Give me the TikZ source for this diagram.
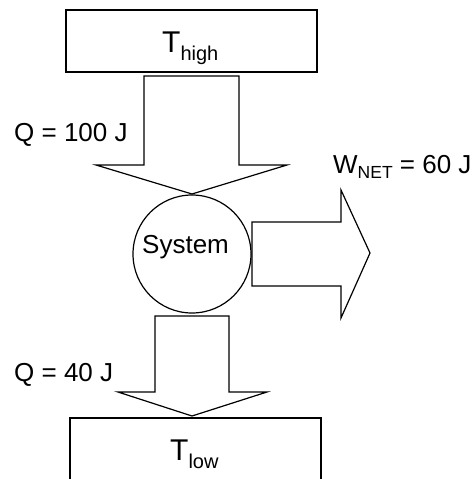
\documentclass[tikz,border=0pt]{standalone}
\usepackage{fontspec}
\setmainfont{Liberation Sans}
\newcommand{\bigT}[1]{{\fontsize{30}{34}\selectfont T}\raisebox{-8pt}{\fontsize{20}{24}\selectfont #1}}
\begin{document}
\begin{tikzpicture}[x=1pt,y=-1pt,
  shp/.style={draw=black,line width=1.2pt,fill=white,line join=miter},
  lbl/.style={inner sep=0pt,anchor=base west,font=\fontsize{26}{30}\selectfont}]
\useasboundingbox (0,0) rectangle (475,479);
% reservoirs
\node[shp,minimum width=251pt,minimum height=62pt,inner sep=0pt] (hot) at (191.5,41) {};
\draw[shp] (70,479) -- (70,418) -- (321,418) -- (321,479);
\coordinate (cold) at (195.5,418);
% system
\node[shp,circle,minimum size=118pt,inner sep=0pt] (sys) at (192,254) {};
% arrows
\draw[shp] (144,76) -- (239,76) -- (239,165) -- (287,165) -- (192,194) -- (96,165) -- (144,165) -- cycle;
\draw[shp] (252,222) -- (341,222) -- (341,190) -- (370,253) -- (341,318) -- (341,286) -- (252,286) -- cycle;
\draw[shp] (155,316) -- (229,316) -- (229,392) -- (267,392) -- (192,416) -- (118,392) -- (155,392) -- cycle;
% texts
\node[lbl] (sysl) at (142,253) {System};
\node[inner sep=0pt,anchor=base west] (th) at (162,52) {\bigT{high}};
\node[inner sep=0pt,anchor=base west] (tl) at (170,460) {\bigT{low}};
\node[lbl] (qin) at (14,141) {Q = 100 J};
\node[lbl] (qout) at (14,381) {Q = 40 J};
\node[lbl] (w) at (333,173) {W\raisebox{-5pt}{\fontsize{17.5}{20}\selectfont NET} = 60 J};
\end{tikzpicture}
\end{document}
